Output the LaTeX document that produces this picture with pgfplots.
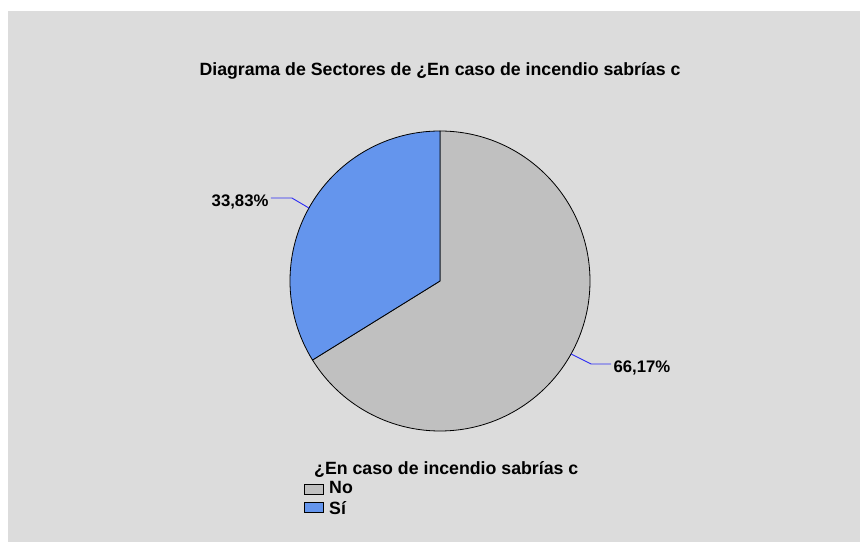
\documentclass[border=0pt]{standalone}
\usepackage{fontspec}
\setmainfont{Liberation Sans}
\usepackage{pgfplots}
\usepackage{pgfplotstable}
\pgfplotsset{compat=1.18}
\definecolor{bg}{HTML}{DCDCDC}
\definecolor{noC}{HTML}{C0C0C0}
\definecolor{siC}{HTML}{6495ED}
\definecolor{lead}{HTML}{2A2AF5}
\pgfplotstableread{
label value
No 66.17
Si 33.83
}\piedata
\begin{document}%
\begin{tikzpicture}
\pgfplotstablegetelem{0}{value}\of\piedata\pgfmathsetmacro{\vNo}{\pgfplotsretval}
\pgfplotstablegetelem{1}{value}\of\piedata\pgfmathsetmacro{\vSi}{\pgfplotsretval}
\pgfmathsetmacro{\aNo}{90-3.6*\vNo}
\pgfmathsetmacro{\aSi}{90+3.6*\vSi}
\pgfmathsetmacro{\mNo}{90-1.8*\vNo}
\pgfmathsetmacro{\mSi}{90+1.8*\vSi}
\begin{axis}[scale only axis, width=860bp, height=542bp, at={(0,0)}, anchor=south west,
  xmin=0, xmax=860, ymin=0, ymax=542, hide axis, xtick=\empty, ytick=\empty, clip=false,
  /pgf/number format/assume math mode=true]
\fill[white] (axis cs:0,0) rectangle (axis cs:860,542);
\fill[bg] (axis cs:8,0) rectangle (axis cs:860,531);
% title
\node[anchor=base, inner sep=0, font=\fontsize{17.8}{19}\selectfont\bfseries] at (axis cs:440,466) {Diagrama de Sectores de ¿En caso de incendio sabrías c};
% pie
\filldraw[fill=noC, draw=black, line width=0.8bp, line join=round] (axis cs:440,261) -- ++(90:150bp) arc[start angle=90, end angle=\aNo, radius=150bp] -- cycle;
\filldraw[fill=siC, draw=black, line width=0.8bp, line join=round] (axis cs:440,261) -- ++(90:150bp) arc[start angle=90, end angle=\aSi, radius=150bp] -- cycle;
% leaders & labels
\draw[lead, line width=0.9bp] (axis cs:440,261) ++(\mSi:150bp) -- ++(-17bp,10bp) -- ++(-21bp,0bp)
  node[anchor=base east, inner sep=0, xshift=-2bp, yshift=-8bp, font=\fontsize{16.8}{18}\selectfont\bfseries, text=black] {\pgfmathprintnumber[fixed, fixed zerofill, precision=2, use comma]{\vSi}\%};
\draw[lead, line width=0.9bp] (axis cs:440,261) ++(\mNo:150bp) -- ++(20bp,-10bp) -- ++(20bp,0bp)
  node[anchor=base west, inner sep=0, xshift=2bp, yshift=-9bp, font=\fontsize{16.8}{18}\selectfont\bfseries, text=black] {\pgfmathprintnumber[fixed, fixed zerofill, precision=2, use comma]{\vNo}\%};
% legend
\node[anchor=base west, inner sep=0, font=\fontsize{17.8}{19}\selectfont\bfseries] at (axis cs:314,67) {¿En caso de incendio sabrías c};
\filldraw[fill=noC, draw=black, line width=0.8bp] (axis cs:304,58) rectangle (axis cs:323,48);
\node[anchor=base west, inner sep=0, font=\fontsize{17.8}{19}\selectfont\bfseries] at (axis cs:329,48) {No};
\filldraw[fill=siC, draw=black, line width=0.8bp] (axis cs:304,40) rectangle (axis cs:323,30);
\node[anchor=base west, inner sep=0, font=\fontsize{17.8}{19}\selectfont\bfseries] at (axis cs:329,28) {Sí};
\end{axis}
\pgfresetboundingbox
\path[use as bounding box] (0,0) rectangle (860bp,542bp);
\end{tikzpicture}%
\end{document}
